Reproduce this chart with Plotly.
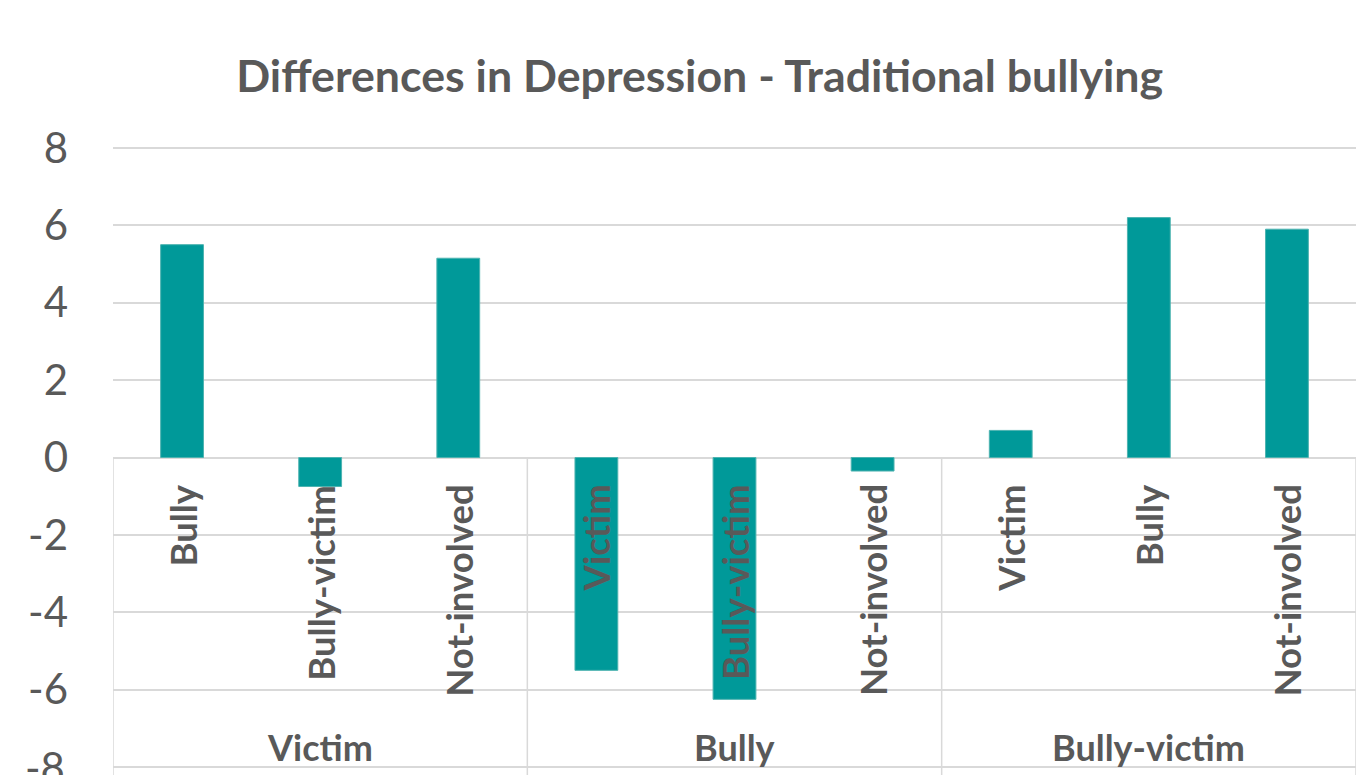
import plotly.graph_objects as go

# Groups (outer category level) and the sub-categories inside each group
groups = ["Victim", "Bully", "Bully-victim"]
subgroups = [
    ["Bully", "Bully-victim", "Not-involved"],
    ["Victim", "Bully-victim", "Not-involved"],
    ["Victim", "Bully", "Not-involved"],
]
# Mean differences in depression score for each pair
values = [
    [5.5, -0.75, 5.15],
    [-5.5, -6.25, -0.35],
    [0.7, 6.2, 5.9],
]
y_ticks = [-8, -6, -4, -2, 0, 2, 4, 6, 8]
y_tick_text = ["-8", "-6", "-4", "-2", "0", "2", "4", "6", "8"]

TEXT = "#595959"
GRID = "#d9d9d9"
BAR = "#009999"
FONT = "Lato"
TICK_SIZE = 42

xs, ys, inner = [], [], []
for gi, subs in enumerate(subgroups):
    for si, name in enumerate(subs):
        xs.append(gi * len(subs) + si)
        ys.append(values[gi][si])
        inner.append(name)

fig = go.Figure()
fig.add_trace(go.Bar(
    x=xs, y=ys, width=0.31,
    marker=dict(color=BAR, line=dict(color="#4db3b0", width=1)),
    hoverinfo="y", showlegend=False,
))

# Inner category labels, rotated, hanging just below the zero line
for x, name in zip(xs, inner):
    fig.add_annotation(
        x=x, y=0, xref="x", yref="y", text=f"<b>{name}</b>", textangle=-90,
        showarrow=False, xanchor="center", yanchor="top", yshift=-25,
        font=dict(family=FONT, size=36.5, color=TEXT),
    )

# Outer group labels and the divider lines between groups
n_sub = len(subgroups[0])
for gi, g in enumerate(groups):
    centre = gi * n_sub + (n_sub - 1) / 2
    fig.add_annotation(
        x=centre, y=-8, xref="x", yref="y", text=f"<b>{g}</b>",
        showarrow=False, xanchor="center", yanchor="bottom", yshift=-4,
        font=dict(family=FONT, size=36, color=TEXT),
    )
for gi in range(len(groups) + 1):
    xb = gi * n_sub - 0.5
    fig.add_shape(type="line", xref="x", yref="paper", x0=xb, x1=xb,
                  y0=-0.05, y1=0.5, line=dict(color=GRID, width=1.5), layer="below")

# The lowest tick label sits on the bottom edge of the page, so it is placed
# as an annotation (plotly drops axis labels that overflow the figure)
lowest = y_ticks[0]
fig.add_annotation(
    x=-0.037, y=lowest, xref="paper", yref="y", text=y_tick_text[0],
    showarrow=False, xanchor="right", yanchor="middle",
    font=dict(family=FONT, size=TICK_SIZE, color=TEXT),
)
axis_text = [""] + y_tick_text[1:]

fig.update_layout(
    width=1356, height=775,
    margin=dict(l=113, r=0, t=146, b=6),
    paper_bgcolor="white", plot_bgcolor="white",
    title=dict(
        text="<b>Differences in Depression - Traditional bullying</b>",
        x=0.516, xanchor="center", y=1 - 76 / 775, yanchor="middle",
        font=dict(family=FONT, size=44.7, color=TEXT),
    ),
    xaxis=dict(range=[-0.5, 8.5], showticklabels=False, showgrid=False,
               zeroline=False, showline=False, fixedrange=True),
    yaxis=dict(range=[-8.05, 8.05], tickvals=y_ticks, ticktext=axis_text,
               showgrid=True, gridcolor=GRID, gridwidth=1.5,
               zeroline=True, zerolinecolor=GRID, zerolinewidth=1.5,
               showline=False, ticks="", ticklabelstandoff=44,
               tickfont=dict(family=FONT, size=TICK_SIZE, color=TEXT)),
    bargap=0.69,
)

fig.write_html("out.html")
